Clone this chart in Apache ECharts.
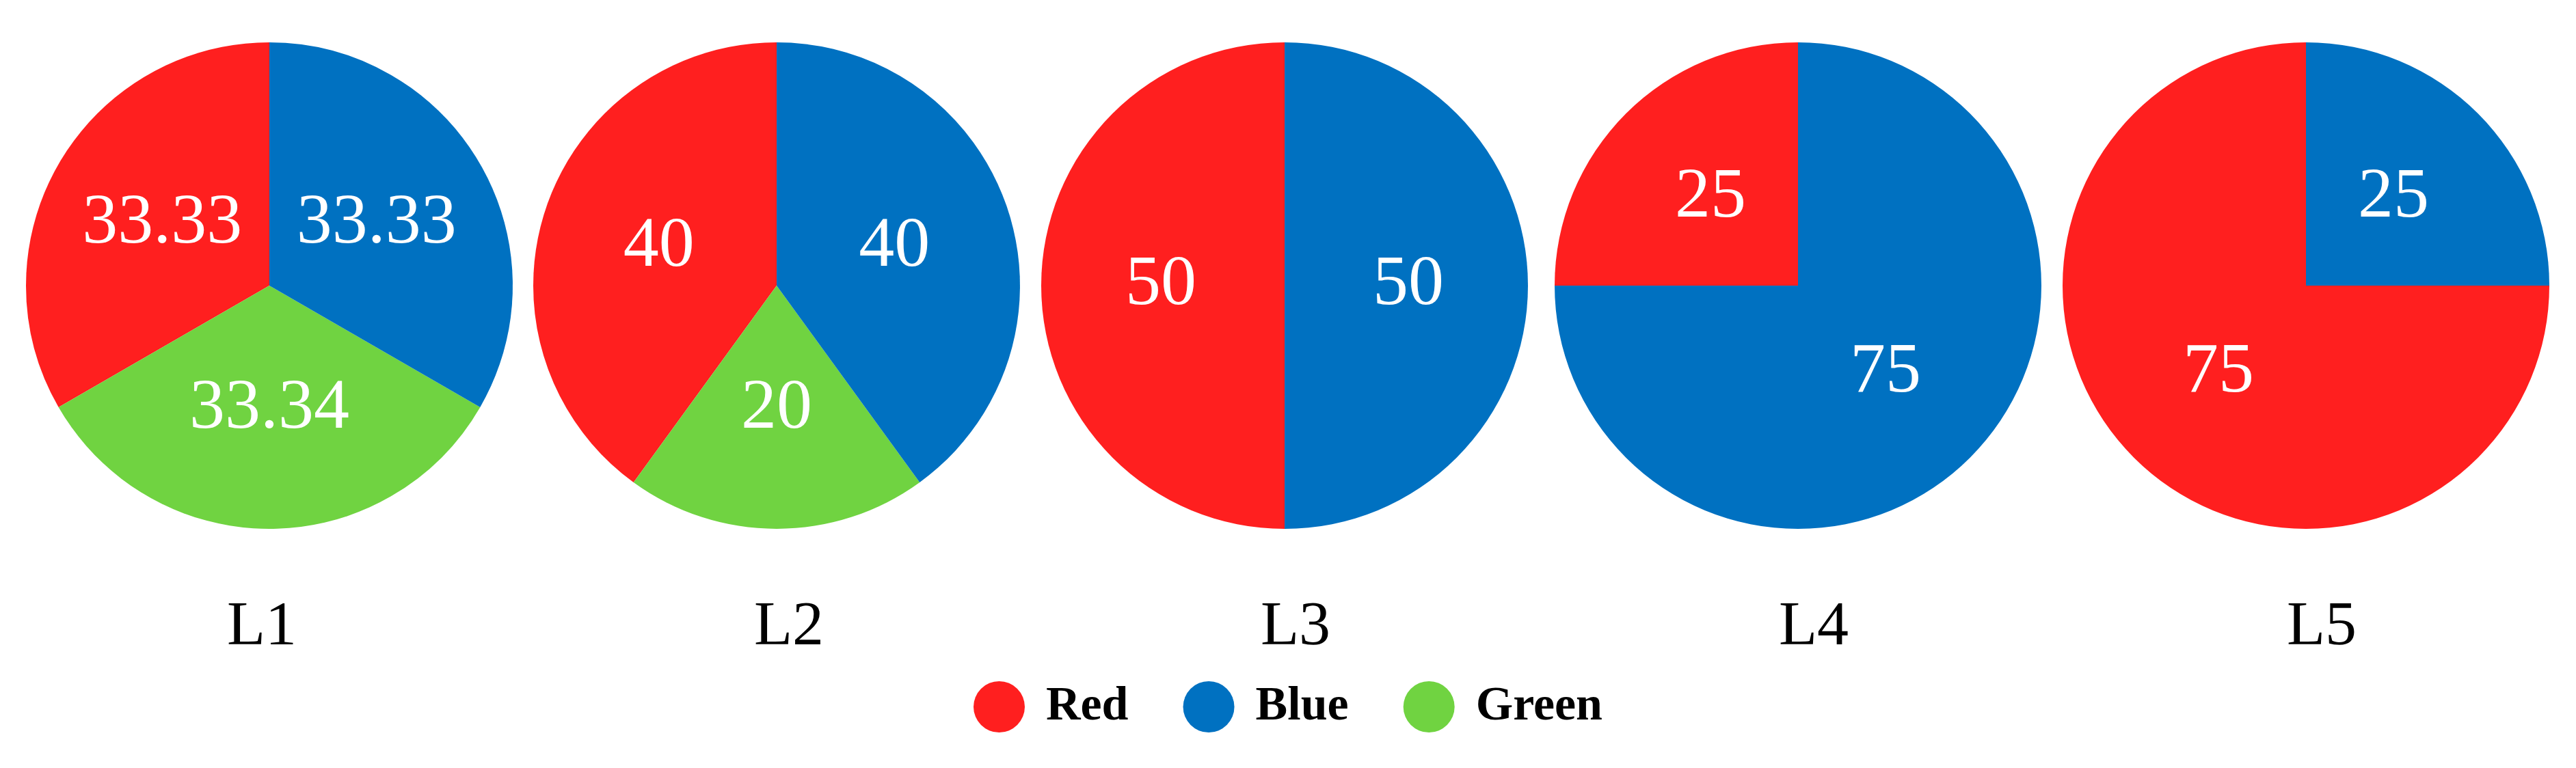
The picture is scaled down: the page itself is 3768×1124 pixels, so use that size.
<!DOCTYPE html>
<html>
<head>
<meta charset="utf-8">
<script src="https://cdn.jsdelivr.net/npm/echarts@6/dist/echarts.min.js"></script>
<style>
  html, body { margin: 0; padding: 0; background: #fff; }
  #chart { width: 3768px; height: 1124px; }
</style>
</head>
<body>
<div id="chart"></div>
<script>
// pie names and values, slice order goes counter-clockwise from 12 o'clock
const groups = ['L1', 'L2', 'L3', 'L4', 'L5']
const sliceNames = ['Red', 'Green', 'Blue']
const redValues = [33.33, 40, 50, 25, 75]
const greenValues = [33.34, 20, 0, 0, 0]
const blueValues = [33.33, 40, 50, 75, 25]
const legendOrder = ['Red', 'Blue', 'Green']

const colors = { Red: '#FF1F1F', Blue: '#0071C1', Green: '#70D341' }
const centersX = [394, 1136, 1879, 2630, 3373]
const titlesX = [378, 1149, 1890, 2648, 3391]
const serif = '"Liberation Serif", "DejaVu Serif", serif'

const chart = echarts.init(document.getElementById('chart'))

const series = groups.map((g, i) => {
  const vals = [redValues[i], greenValues[i], blueValues[i]]
  return {
    name: g,
    type: 'pie',
    center: [centersX[i], 418],
    radius: 356,
    startAngle: 90,
    clockwise: false,
    animation: false,
    silent: true,
    itemStyle: { borderWidth: 0 },
    label: {
      show: true,
      position: 'inside',
      color: '#fff',
      fontFamily: serif,
      fontSize: 104,
      formatter: p => p.value
    },
    labelLine: { show: false },
    data: sliceNames
      .map((n, k) => ({ name: n, value: vals[k], itemStyle: { color: colors[n] } }))
      .filter(d => d.value > 0)
  }
})

chart.setOption({
  backgroundColor: '#fff',
  title: groups.map((g, i) => ({
    text: g,
    left: titlesX[i],
    top: 868,
    textAlign: 'center',
    textStyle: { fontFamily: serif, fontSize: 92, fontWeight: 'normal', color: '#000' }
  })),
  legend: {
    data: legendOrder.map(n => ({ name: n, icon: 'circle', itemStyle: { color: colors[n] } })),
    left: 'center',
    top: 992,
    itemWidth: 75,
    itemHeight: 75,
    itemGap: 80,
    selectedMode: false,
    formatter: '{t|{name}}',
    textStyle: {
      rich: {
        t: { fontFamily: serif, fontSize: 70, fontWeight: 'bold', color: '#000', padding: [0, 0, 0, 26] }
      }
    }
  },
  series
})
</script>
</body>
</html>
